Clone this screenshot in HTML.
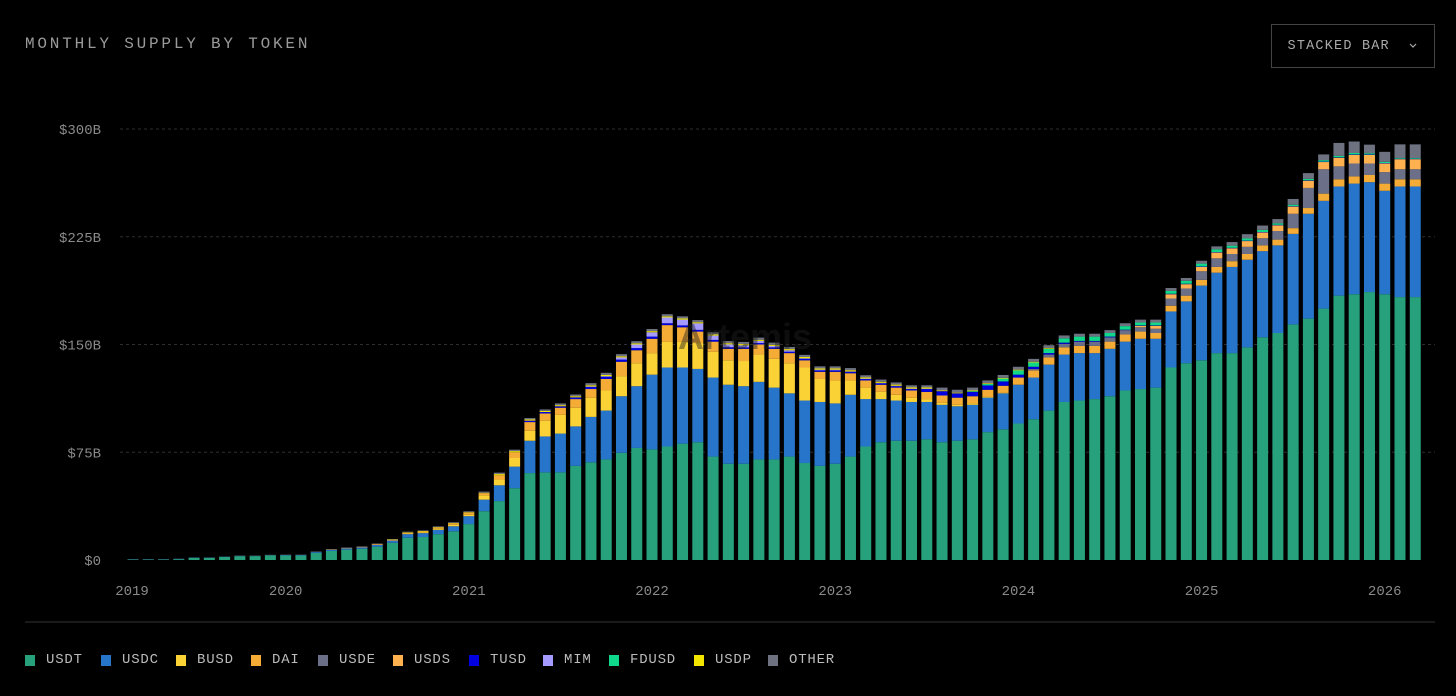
<!DOCTYPE html>
<html><head><meta charset="utf-8"><style>
body{margin:0;background:#000;width:1456px;height:696px;overflow:hidden;font-family:"Liberation Mono",monospace;}
#title{position:absolute;left:25px;top:35px;font-size:16px;letter-spacing:2.8px;color:#9a9a9a;}
#btn{position:absolute;left:1271px;top:24px;width:164px;height:44px;border:1px solid #444;color:#aaa;font-size:13.5px;letter-spacing:1.2px;box-sizing:border-box;display:flex;align-items:center;justify-content:center;}
.leg{position:absolute;top:652px;font-size:14px;color:#bbb;letter-spacing:0.8px;display:flex;align-items:center;}
.leg span.sw{display:inline-block;width:10px;height:11px;margin-right:11px;}
</style></head><body>
<div id="title">MONTHLY SUPPLY BY TOKEN</div>
<div id="btn">STACKED BAR&nbsp;&nbsp;<svg width="10" height="8" viewBox="0 0 10 8"><path d="M2 2 L5 5 L8 2" stroke="#aaa" fill="none" stroke-width="1.2"/></svg></div>
<svg id="chart" width="1456" height="696" style="position:absolute;left:0;top:0">
<g id="grid"></g><g id="bars"></g><g id="axes"></g>
<text x="745" y="349" font-family="Liberation Sans,sans-serif" font-size="36" font-weight="bold" fill="#1e1e1e" fill-opacity="0.45" text-anchor="middle">Artemis</text>
<line x1="25" y1="622" x2="1435" y2="622" stroke="#333"/>
</svg>
<div id="legend"></div>
<script>
const series=["USDT","USDC","BUSD","DAI","USDE","USDS","TUSD","MIM","FDUSD","USDP","OTHER"];
const colors=["#26a17b","#2775ca","#fbd235","#f5ac37","#6b7088","#ffb14f","#0000e0","#a59bff","#10d88a","#f2e600","#6e7280"];
const usdt=[0.3,0.3,0.3,0.6,1.5,1.5,2.1,2.7,2.7,3.2,3.2,3.2,5,6.3,7.2,7.8,9.3,12,15.5,16,18,20,25,34,41,50,60.5,61,61,65.5,68,70,74.6,78,77,79,81,82,72,67,67,70,70,72,67.5,65.5,67,72,79,82,83,83,84,82,83,84,89,91,95,98,104,110,111,112,114,118,119,120,134,137,139,144,144,148,155,158,164,168,175,184,185,186.5,185,183,183];
const usdc=[0.2,0.2,0.2,0.2,0.2,0.2,0.2,0.2,0.2,0.2,0.3,0.3,0.6,0.8,0.9,1,1.3,1.5,2.5,2.7,3,3.5,5.5,8,11,15,22.5,25,27,27.5,31.6,34,39.4,43,52,55,53,51,55,55,54,54,50,44,43.5,44.5,42,43,33,30,28,27,26,26,24,24,24,25,27,29,32,33,33,32,33,34,35,34,39,43,52,56,60,61,60,61,63,73,75,76,77,76.5,72,77,77];
const busd=[0,0,0,0,0,0,0,0,0,0,0,0,0,0,0,0,0,0,0.5,0.5,0.8,1,1,3,4,6,7,11,13,13,13.4,14,14,16,15,18,18,18,18,17,17.5,19,20,21,23,16,16,10,8,5,4,3,2,1.5,1,1,0.5,0.3,0,0,0,0,0,0,0,0,0,0,0,0,0,0,0,0,0,0,0,0,0,0,0,0,0,0,0];
const dai=[0,0,0,0,0,0,0,0,0,0,0,0,0,0.2,0.3,0.4,0.6,0.5,0.5,0.7,0.8,1,1.5,1.5,3,4,6,5,5,6,6,8,10,9,10,11.5,10,8,7,8,8.5,7,7,7,5,5,6,5,5,5,5,5,5,5,5,5,5,5,5,5,5,5,5,5,5,5,5,4,4,4,4,4,4,4,4,4,4,4,5,5,5,5,5,5,5];
const usde=[0,0,0,0,0,0,0,0,0,0,0,0,0,0,0,0,0,0,0,0,0,0,0,0,0,0,0,0,0,0,0,0,0,0,0,0,0,0,0,0,0,0,0,0,0,0,0,0,0,0,0,0,0,0,0,0,0,0,0,1,2,2.5,3,3,3,3,3,3,5,5,6,6,5,5,5,6,10,14,17,9,9,8,8,7,7];
const usds=[0,0,0,0,0,0,0,0,0,0,0,0,0,0,0,0,0,0,0,0,0,0,0,0,0,0,0,0,0,0,0,0,0,0,0,0,0,0,0,0,0,0,0,0,0,0,0,0,0,0,0,0,0,0,0,0,0,0,0,0,0,0,0,0,0,0,1,2,3,3,3,4,4,4,4,4,5,5,5,6,6,6,6,7,7];
const tusd=[0,0,0,0,0,0,0,0,0,0,0,0,0,0,0,0,0,0,0,0,0,0,0,0,0,0,1,1,1,1.2,1.5,1.5,1.5,1.5,1.5,1.3,1.3,1.2,1.2,1.1,1,1,1,1,1,1,1,1,1,1,1,1,2,3,3,3,3,3,2,1.5,1,0.8,0.5,0.5,0.5,0.3,0.3,0.3,0.3,0.3,0.3,0.3,0.3,0.3,0.3,0.3,0.3,0.3,0.3,0.3,0.3,0.3,0.3,0.3,0.3];
const mim=[0,0,0,0,0,0,0,0,0,0,0,0,0,0,0,0,0,0,0,0,0,0,0,0,0,0,0,0,0,0,0.3,0.5,1.5,2.5,3,4,4,4.5,3,2,1.5,1.5,1,1,0.5,0.5,0.5,0.3,0.3,0.3,0.3,0.3,0.3,0,0,0,0,0,0,0,0,0,0,0,0,0,0,0,0,0,0,0,0,0,0,0,0,0,0,0,0,0,0,0,0];
const fdusd=[0,0,0,0,0,0,0,0,0,0,0,0,0,0,0,0,0,0,0,0,0,0,0,0,0,0,0,0,0,0,0,0,0,0,0,0,0,0,0,0,0,0,0,0,0,0,0,0,0,0,0,0,0,0,0,0.5,1,2,3,3,3,3,3,3,2.5,2.5,2,2,2,2,2,2,1.5,1.5,1.5,1,1,1,1,1,1,0.8,0.8,0.5,0.5];
const usdp=[0,0,0,0,0,0,0,0,0,0,0,0,0,0,0,0,0,0.3,0.3,0.3,0.3,0.3,0.3,0.3,0.8,0.8,0.8,0.8,0.8,0.8,0.8,0.8,0.8,0.8,0.8,0.8,0.8,0.8,0.8,0.8,0.8,0.8,0.8,0.8,0.8,0.8,0.8,0.8,0.8,0.8,0.8,0.8,0.8,0.5,0.5,0.5,0.5,0.5,0.5,0.5,0.5,0,0,0,0,0,0,0,0,0,0,0,0,0,0,0,0,0,0,0,0,0,0,0,0];
const other=[
0.1,0.1,0.1,0.1,0.1,0.1,0.1,0.2,0.2,0.2,
0.2,0.2,0.3,0.3,0.3,0.3,0.3,0.3,0.4,0.4,
0.5,0.5,0.6,0.8,1,1,1,1,1.2,1.2,
1.5,1.5,1.5,1.5,1.5,1.5,1.5,1.5,1.5,1.5,
1.5,1.5,1.5,1.5,1.5,1.5,1.5,1.5,1.5,1.5,
1.5,1.5,1.5,2,2,2,2,2,2,2,
2,2,2,2,2,2,2,2,2,2,
2,2,2.5,3,3,3,4,4,4,9,
8,6,7,9.5,9.5];
const yTicks=[0,75,150,225,300];
const yTickLabels=["$0","$75B","$150B","$225B","$300B"];
const xTickIdx=[0,10,22,34,46,58,70,82];
const xTickLabels=["2019","2020","2021","2022","2023","2024","2025","2026"];
const data=[usdt,usdc,busd,dai,usde,usds,tusd,mim,fdusd,usdp,other];
const NS="http://www.w3.org/2000/svg";
const y0=560,yPer=431/300;
function yScale(v){return y0-v*yPer;}
function xScale(i){return 133+i*15.265;}
const grid=document.getElementById('grid'),axes=document.getElementById('axes'),bars=document.getElementById('bars');
yTicks.forEach((t,k)=>{
 if(t>0){const l=document.createElementNS(NS,'line');
 l.setAttribute('x1',120);l.setAttribute('x2',1435);l.setAttribute('y1',yScale(t));l.setAttribute('y2',yScale(t));
 l.setAttribute('stroke','#2e2e2e');l.setAttribute('stroke-dasharray','3,3');
 
 
 grid.appendChild(l);}
 const tx=document.createElementNS(NS,'text');
 tx.setAttribute('x',101);tx.setAttribute('y',yScale(t)+5);tx.setAttribute('text-anchor','end');
 tx.setAttribute('fill','#8a8a8a');tx.setAttribute('font-size','14');tx.setAttribute('font-family','Liberation Mono,monospace');
 tx.textContent=yTickLabels[k];
 
 
 axes.appendChild(tx);
});
xTickIdx.forEach((idx,k)=>{
 const tx=document.createElementNS(NS,'text');
 tx.setAttribute('x',k===0?132:xScale(idx));tx.setAttribute('y',595);tx.setAttribute('text-anchor','middle');
 tx.setAttribute('fill','#8a8a8a');tx.setAttribute('font-size','14');tx.setAttribute('font-family','Liberation Mono,monospace');
 tx.textContent=xTickLabels[k];
 
 
 axes.appendChild(tx);
});
for(let i=0;i<usdt.length;i++){
 let acc=0;
 data.forEach((arr,s)=>{
  const v=arr[i];if(!v)return;
  const r=document.createElementNS(NS,'rect');
  r.setAttribute('x',xScale(i)-5.5);r.setAttribute('width',11);
  r.setAttribute('y',yScale(acc+v));r.setAttribute('height',v*yPer);
  r.setAttribute('fill',colors[s]);
  
  
  bars.appendChild(r);acc+=v;
 });
}
const legX=[25,101,176,251,318,393,469,543,609,694,768];
const legend=document.getElementById('legend');
series.forEach((s,k)=>{
 const d=document.createElement('div');d.className='leg';d.style.left=legX[k]+'px';
 d.innerHTML='<span class="sw" style="background:'+colors[k]+'"></span>'+s;
 
 
 legend.appendChild(d);
});
</script>
</body></html>
